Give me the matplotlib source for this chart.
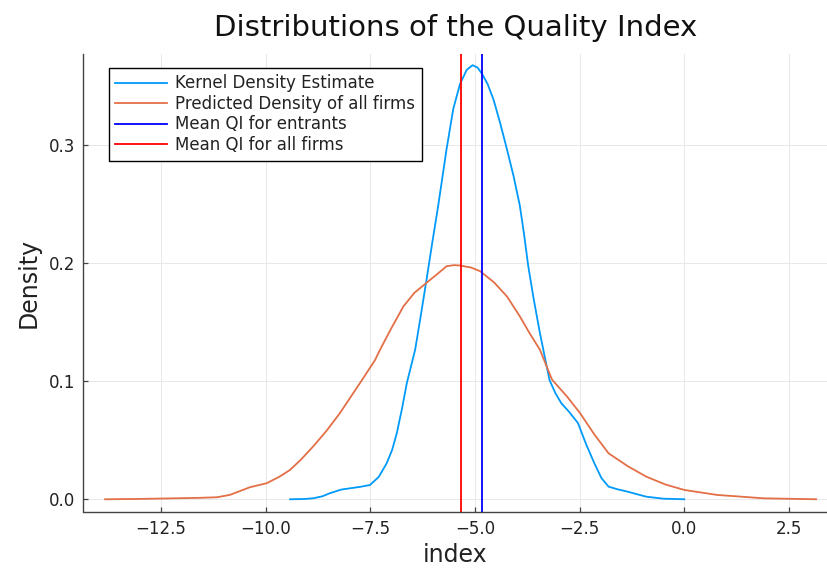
import matplotlib
matplotlib.use("Agg")
import matplotlib.pyplot as plt

# Kernel density estimate of the quality index (entrants)
kde_x = [-9.42, -9.10, -8.87, -8.65, -8.47, -8.20, -7.99, -7.75, -7.51, -7.30,
         -7.11, -6.98, -6.87, -6.75, -6.63, -6.43, -6.30, -6.16, -6.02, -5.88,
         -5.68, -5.52, -5.36, -5.20, -5.06, -4.94, -4.83, -4.70, -4.56, -4.40,
         -4.24, -4.08, -3.93, -3.83, -3.73, -3.60, -3.45, -3.33, -3.22, -3.08,
         -2.94, -2.75, -2.54, -2.35, -2.15, -1.98, -1.81, -1.60, -1.36, -1.10,
         -0.91, -0.50, 0.0]
kde_y = [0.0, 0.0002, 0.0008, 0.0025, 0.0051, 0.0082, 0.0093, 0.0105, 0.0121, 0.019,
         0.0306, 0.042, 0.056, 0.076, 0.0985, 0.127, 0.155, 0.186, 0.218, 0.249,
         0.297, 0.331, 0.352, 0.364, 0.368, 0.366, 0.3605, 0.352, 0.339, 0.319,
         0.297, 0.274, 0.249, 0.225, 0.198, 0.170, 0.141, 0.120, 0.101, 0.090,
         0.0815, 0.074, 0.0646, 0.047, 0.0306, 0.018, 0.0107, 0.0085, 0.0065, 0.004,
         0.0022, 0.0005, 0.0]

# Predicted density of all firms
pred_x = [-13.84, -13.0, -12.21, -11.6, -11.17, -10.86, -10.6, -10.38, -9.98, -9.67,
          -9.42, -9.15, -8.87, -8.55, -8.23, -7.75, -7.39, -7.27, -7.0, -6.71,
          -6.45, -6.16, -5.90, -5.68, -5.50, -5.36, -5.10, -4.88, -4.55, -4.24,
          -3.93, -3.70, -3.45, -3.16, -2.80, -2.49, -2.15, -1.81, -1.35, -0.91,
          -0.45, 0.0, 0.78, 1.9, 3.15]
pred_y = [0.0, 0.0003, 0.0008, 0.0012, 0.0017, 0.0037, 0.0072, 0.0102, 0.0136, 0.0192,
          0.0249, 0.034, 0.0447, 0.058, 0.073, 0.0985, 0.118, 0.1268, 0.145, 0.1636,
          0.175, 0.1835, 0.191, 0.1976, 0.1985, 0.1982, 0.1965, 0.1934, 0.184, 0.1721,
          0.1551, 0.141, 0.1268, 0.1014, 0.087, 0.073, 0.055, 0.039, 0.028, 0.0192,
          0.0125, 0.0079, 0.0037, 0.0008, 0.0]

mean_entrants = -4.83
mean_all = -5.34

xticks = [-12.5, -10.0, -7.5, -5.0, -2.5, 0.0, 2.5]
yticks = [0.0, 0.1, 0.2, 0.3]

W, H = 828, 572
fig = plt.figure(figsize=(W / 100, H / 100), dpi=100)
left, right, top, bottom = 83.5, 827, 54, 511.5
ax = fig.add_axes([left / W, 1 - bottom / H, (right - left) / W, (bottom - top) / H])

ax.plot(kde_x, kde_y, color="#009AFA", lw=1.3, label="Kernel Density Estimate")
ax.plot(pred_x, pred_y, color="#E36F47", lw=1.3, label="Predicted Density of all firms")
ax.axvline(mean_entrants, color="blue", lw=1.3, label="Mean QI for entrants")
ax.axvline(mean_all, color="red", lw=1.3, label="Mean QI for all firms")

ax.set_xlim(-14.356, 3.41)
ax.set_ylim(-0.01037, 0.3775)
ax.set_xticks(xticks)
ax.set_yticks(yticks)
ax.set_xticklabels([f"{t:.1f}".replace("-", "\u2212") for t in xticks])
ax.set_yticklabels([f"{t:.1f}" for t in yticks])
ax.grid(True, color="#e8e8e8", lw=0.7)
ax.set_axisbelow(True)

for s in ("top", "right"):
    ax.spines[s].set_visible(False)
for s in ("left", "bottom"):
    ax.spines[s].set_color("#444444")
    ax.spines[s].set_linewidth(1.0)
ax.tick_params(direction="in", length=3.5, width=0.9, color="#444444",
               labelsize=12, labelcolor="#222222", pad=6)

ax.set_xlabel("index", fontsize=17, color="#222222", labelpad=4)
ax.set_ylabel("Density", fontsize=17, color="#222222", labelpad=6)
ax.set_title("Distributions of the Quality Index", fontsize=21, color="#111111", pad=13)

leg = ax.legend(loc="upper left", bbox_to_anchor=(0.034, 0.970), borderaxespad=0,
                fontsize=12, frameon=True, fancybox=False, framealpha=1,
                edgecolor="black", handlelength=3.1, handletextpad=0.5,
                labelspacing=0.15, borderpad=0.4)
leg.get_frame().set_linewidth(1.0)
for t in leg.get_texts():
    t.set_color("#222222")

fig.savefig("out.png", dpi=100)
